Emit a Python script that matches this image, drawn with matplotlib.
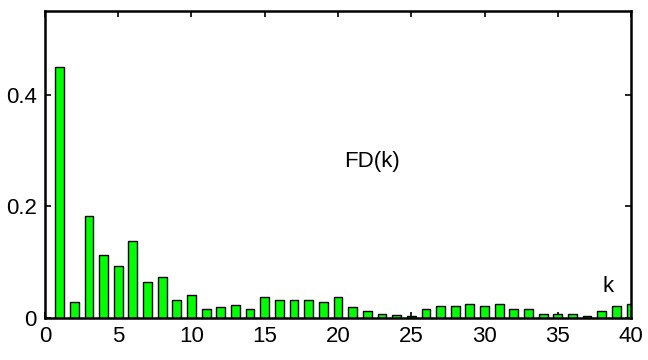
import numpy as np
import matplotlib.pyplot as plt

plt.rcParams['font.family'] = ['Liberation Sans', 'DejaVu Sans']

# FD(k) distribution, k = 1..40
k = np.arange(1, 41)
fd = [0.449, 0.029, 0.182, 0.113, 0.093, 0.138, 0.065, 0.073, 0.032, 0.041,
      0.016, 0.020, 0.024, 0.016, 0.037, 0.032, 0.032, 0.032, 0.028, 0.037,
      0.020, 0.012, 0.008, 0.005, 0.003, 0.016, 0.021, 0.021, 0.025, 0.021,
      0.025, 0.016, 0.016, 0.008, 0.008, 0.008, 0.004, 0.012, 0.021, 0.025]

xticks = [0, 5, 10, 15, 20, 25, 30, 35, 40]
yticks = [0, 0.2, 0.4]
ytick_labels = ["0", "0.2", "0.4"]

fig = plt.figure(figsize=(6.48, 3.6), dpi=100)
ax = fig.add_axes([0.0694, 0.1167, 0.9044, 0.8527])

ax.bar(k, fd, width=0.6, color="#00ff00", edgecolor="black", linewidth=1.0,
       zorder=2)

ax.set_xlim(0, 40)
ax.set_ylim(0, 0.55)
ax.set_xticks(xticks)
ax.set_yticks(yticks)
ax.set_yticklabels(ytick_labels)
ax.tick_params(direction="in", length=4, width=1.2, labelsize=16,
               top=True, right=True)
ax.tick_params(axis="x", pad=6)
ax.tick_params(axis="y", pad=6)

for s in ax.spines.values():
    s.set_linewidth(1.8)
    s.set_zorder(3)

ax.text(22.3, 0.28, "FD(k)", fontsize=16, ha="center", va="center")
ax.text(38.4, 0.057, "k", fontsize=16, ha="center", va="center")

fig.savefig("out.png", dpi=100)
